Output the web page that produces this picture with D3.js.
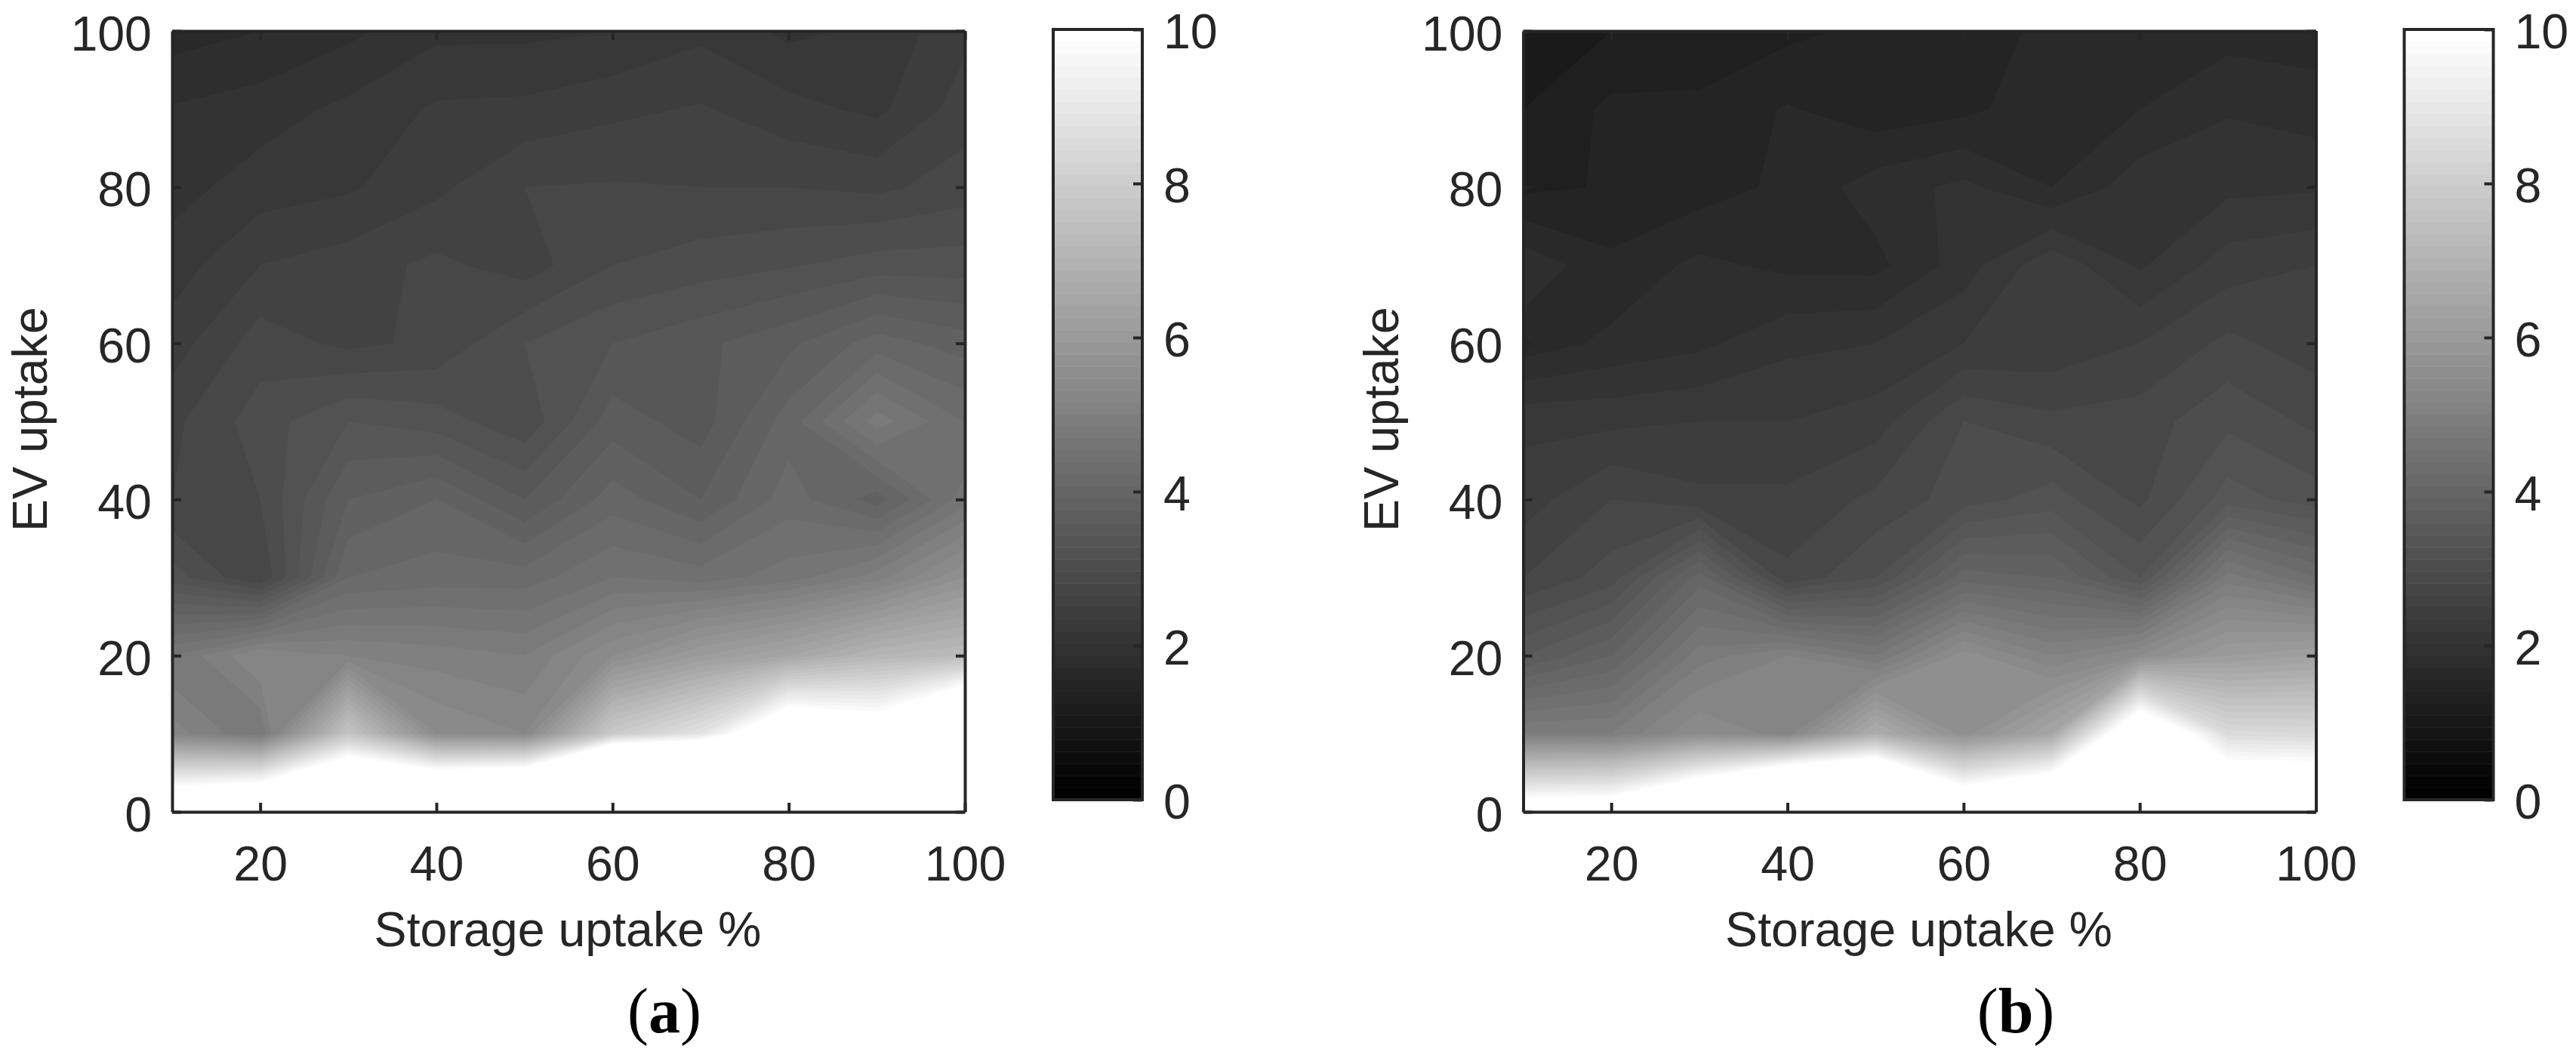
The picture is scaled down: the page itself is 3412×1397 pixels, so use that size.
<!DOCTYPE html>
<html><head><meta charset="utf-8">
<script src="https://cdnjs.cloudflare.com/ajax/libs/d3/7.8.5/d3.min.js"></script>
<style>html,body{margin:0;background:#fff}svg{display:block}text{font-family:"Liberation Sans",Arial,sans-serif;fill:#262626}</style>
</head><body><svg id="c" width="3412" height="1397"></svg>
<script>
const storageUptake=[10,20,30,40,50,60,70,80,90,100];
const evUptake=[0,10,20,30,40,50,60,70,80,90,100];
const xTicks=[20,40,60,80,100], yTicks=[0,20,40,60,80,100], cbTicks=[0,2,4,6,8,10];
// rows run from EV uptake 0 to EV uptake 100
const panelA=[
[12.3,13.2,15.4,15.2,16.1,23.4,21.5,22,22,22],
[5.3,4.8,7.8,5.6,5.4,8,9,11.8,11.1,14.4],
[4.8,5.4,5.2,5.1,5.0,5.6,6.2,6.6,7.2,7.4],
[3.3,2.8,4.2,4.3,4.3,4.6,4.5,4.7,5.1,5.8],
[2.8,3.0,3.8,4.0,3.6,4.1,3.8,4.3,3.9,4.7],
[2.75,3.1,3.4,3.3,3.05,3.7,3.5,4.1,4.9,4.4],
[2.5,2.9,2.75,2.85,3.2,3.4,3.55,3.75,4.1,3.9],
[2.3,2.6,2.7,2.85,2.7,3.0,3.1,3.18,3.3,3.3],
[2.12,2.3,2.37,2.55,2.8,2.82,2.8,2.8,2.75,2.9],
[2.02,2.1,2.25,2.43,2.45,2.55,2.62,2.47,2.35,2.7],
[1.7,1.8,1.95,2.15,2.15,2.2,2.35,2.15,2.25,2.55]];
const panelB=[
[11.1,11.25,13.5,17,17.2,12.2,13.5,20,12.6,12.6],
[5,5,5.6,5.3,6.9,5.7,6.6,11.9,8.7,8.6],
[3.6,4.0,4.9,5.2,4.8,5.7,5.2,5.6,6.2,6.4],
[2.8,3.1,4.1,2.85,3.2,4.1,4.0,3.4,4.9,4.4],
[2.5,2.8,2.65,2.65,2.85,3.1,3.3,2.95,3.5,3.3],
[2.35,2.35,2.4,2.4,2.5,3.0,2.85,2.9,3.15,2.95],
[1.68,1.85,1.95,2.15,2.2,2.4,2.45,2.6,2.85,2.7],
[1.95,1.65,1.85,1.75,1.74,2.1,2.55,2.17,2.5,2.6],
[1.35,1.42,1.5,1.65,1.9,2.05,1.8,2.12,2.15,2.17],
[1.2,1.45,1.45,1.62,1.47,1.55,1.72,1.8,1.98,1.9],
[1.1,1.2,1.25,1.35,1.45,1.5,1.65,1.75,1.72,1.7]];
const levels=d3.range(0,51).map(i=>i*0.2);
const cbSteps=d3.range(64);
const svg=d3.select('#c');
const ink='#262626', FS=64.5, SW=4;
const gray=d3.scaleLinear().domain([0,10]).range([0,255]).clamp(true);
const g2c=v=>{const g=Math.round(gray(v));return `rgb(${g},${g},${g})`};

function panel(left,vals,id,cap,capX){
  const x=d3.scaleLinear().domain([10,100]).range([left,left+1050]);
  const y=d3.scaleLinear().domain([0,100]).range([1075,41]);
  const g=svg.append('g');
  g.append('clipPath').attr('id',id).append('rect')
    .attr('x',x(10)).attr('y',y(100)).attr('width',x(100)-x(10)).attr('height',y(0)-y(100));
  const nx=storageUptake.length, ny=evUptake.length;
  const xi=d3.scaleLinear().domain([0,nx-1]).range([storageUptake[0],storageUptake[nx-1]]);
  const yi=d3.scaleLinear().domain([0,ny-1]).range([evUptake[0],evUptake[ny-1]]);
  const proj=d3.geoTransform({point(a,b){this.stream.point(x(xi(a-0.5)),y(yi(b-0.5)));}});
  const path=d3.geoPath(proj);
  const cs=d3.contours().size([nx,ny]).thresholds(levels)(vals.flat());
  g.append('g').attr('clip-path',`url(#${id})`).selectAll('path').data(cs).join('path')
    .attr('d',path).attr('fill',d=>g2c(d.value)).attr('stroke',d=>g2c(d.value)).attr('stroke-width',0.4);
  const style=(a)=>{a.select('.domain').attr('stroke',ink).attr('stroke-width',SW);
    a.selectAll('.tick line').attr('stroke',ink).attr('stroke-width',SW);};
  const T=12;
  g.append('g').attr('transform',`translate(0,${y(100)})`).call(d3.axisTop(x).tickValues(xTicks).tickSize(-T).tickSizeOuter(0).tickFormat('')).call(style);
  g.append('g').attr('transform',`translate(${x(100)},0)`).call(d3.axisRight(y).tickValues(yTicks).tickSize(-T).tickSizeOuter(0).tickFormat('')).call(style);
  const ax=g.append('g').attr('transform',`translate(0,${y(0)})`).call(d3.axisBottom(x).tickValues(xTicks).tickSize(-T).tickSizeOuter(0)).call(style);
  ax.selectAll('text').attr('y',91).attr('dy',0).attr('font-size',FS).style('font-family','"Liberation Sans"').attr('fill',ink);
  const ay=g.append('g').attr('transform',`translate(${x(10)},0)`).call(d3.axisLeft(y).tickValues(yTicks).tickSize(-T).tickSizeOuter(0)).call(style);
  ay.selectAll('text').attr('x',-27).attr('dy',25).attr('font-size',FS).style('font-family','"Liberation Sans"').attr('fill',ink);
  g.append('text').attr('x',x(55)-1).attr('y',1253).attr('text-anchor','middle').attr('font-size',FS).text('Storage uptake %');
  g.append('text').attr('transform',`translate(${left-166},704) rotate(-90)`).attr('font-size',FS).text('EV uptake');
  // colour bar
  const cx0=left+1167,cx1=left+1285;
  const cy=d3.scaleLinear().domain([0,10]).range([1059,39]);
  const band=d3.scaleBand().domain(cbSteps).range([1059,39]);
  g.append('g').selectAll('rect').data(cbSteps).join('rect')
    .attr('x',cx0).attr('width',cx1-cx0).attr('y',d=>band(d)).attr('height',band.bandwidth()+0.5)
    .attr('fill',d=>g2c(d/63*10));
  g.append('rect').attr('x',cx0).attr('y',cy(10)).attr('width',cx1-cx0).attr('height',cy(0)-cy(10))
    .attr('fill','none').attr('stroke',ink).attr('stroke-width',SW);
  const ac=g.append('g').attr('transform',`translate(${cx1},0)`).call(d3.axisRight(cy).tickValues(cbTicks).tickSize(-T).tickSizeOuter(0));
  ac.select('.domain').remove();
  ac.selectAll('.tick line').attr('stroke',ink).attr('stroke-width',SW);
  ac.selectAll('text').attr('x',28).attr('dy',24).attr('font-size',FS).style('font-family','"Liberation Sans"').attr('fill',ink);
  // caption
  const t=g.append('text').attr('x',capX).attr('y',1367).attr('text-anchor','middle').attr('font-size',84)
    .style('font-family','"Liberation Serif"').style('fill','#000');
  t.append('tspan').text('(');
  t.append('tspan').attr('font-weight','bold').text(cap);
  t.append('tspan').text(')');
}
panel(228,panelA,'clipA','a',880);
panel(2017.5,panelB,'clipB','b',2670);
</script></body></html>
